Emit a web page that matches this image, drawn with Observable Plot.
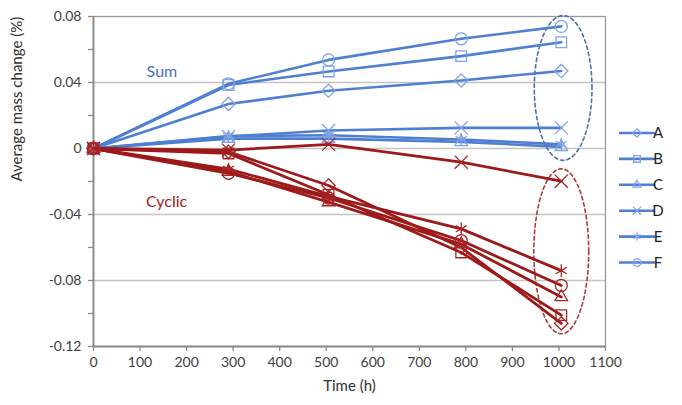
<!DOCTYPE html>
<html>
<head>
<meta charset="utf-8">
<script src="https://cdn.jsdelivr.net/npm/d3@7"></script>
<script src="https://cdn.jsdelivr.net/npm/@observablehq/plot@0.6"></script>
<style>
  html, body { margin: 0; padding: 0; background: white; }
  #chart { width: 682px; height: 405px; }
</style>
</head>
<body>
<div id="chart"></div>
<script>
// ---- data ----
const times = [0, 290, 505, 790, 1005];
const seriesNames = ["A", "B", "C", "D", "E", "F"];
const symbolNames = ["diamond2", "square", "triangle2", "times", "asterisk", "circle"];

// "Sum" loading (blue)
const sumA = [0, 0.027, 0.035, 0.0412, 0.047];
const sumB = [0, 0.0385, 0.0467, 0.056, 0.0644];
const sumC = [0, 0.006, 0.006, 0.004, 0.001];
const sumD = [0, 0.0073, 0.0109, 0.0125, 0.0125];
const sumE = [0, 0.0075, 0.008, 0.0055, 0.0025];
const sumF = [0, 0.0392, 0.0537, 0.0665, 0.074];

// "Cyclic" loading (red)
const cycA = [0, -0.002, -0.0224, -0.060, -0.106];
const cycB = [0, -0.003, -0.028, -0.063, -0.101];
const cycC = [0, -0.014, -0.0325, -0.058, -0.090];
const cycD = [0, -0.001, 0.0025, -0.0083, -0.0198];
const cycE = [0, -0.0125, -0.029, -0.0487, -0.074];
const cycF = [0, -0.015, -0.030, -0.0558, -0.083];

const xTicks = [0, 100, 200, 300, 400, 500, 600, 700, 800, 900, 1000, 1100];
const yTicks = [-0.12, -0.10, -0.08, -0.06, -0.04, -0.02, 0, 0.02, 0.04, 0.06, 0.08];
const yLabels = ["-0.12", "", "-0.08", "", "-0.04", "", "0", "", "0.04", "", "0.08"];
const gridValues = [0.04, 0, -0.04, -0.08];

const groupLabels = [
  {text: "Sum", time: 147, value: 0.0467, group: "Sum"},
  {text: "Cyclic", time: 157, value: -0.0321, group: "Cyclic"}
];
// dashed ellipses around the final readings (centre & radii in data units)
const ellipseSpecs = [
  {group: "Sum", cx: 1009, cy: 0.0367, rx: 62, ry: 0.0439},
  {group: "Cyclic", cx: 1005, cy: -0.0623, rx: 59, ry: 0.050}
];

// ---- styles ----
const blueLine = "#4f7fd1", blueMarker = "#7fa2e4";
const redLine = "#9c1a1a", redMarker = "#a82424";

// ---- build tables ----
const sumSets = [sumA, sumB, sumC, sumD, sumE, sumF];
const cycSets = [cycA, cycB, cycC, cycD, cycE, cycF];
function rowsFor(group, sets) {
  const out = [];
  sets.forEach((vals, i) => vals.forEach((v, j) => out.push({group, series: seriesNames[i], time: times[j], value: v})));
  return out;
}
const sumRows = rowsFor("Sum", sumSets);
const cycRows = rowsFor("Cyclic", cycSets);

const ellipseRows = [];
ellipseSpecs.forEach(e => {
  d3.range(0, 361, 4).forEach(a => {
    const t = a * Math.PI / 180;
    ellipseRows.push({group: e.group, time: e.cx + e.rx * Math.cos(t), value: e.cy + e.ry * Math.sin(t)});
  });
});

const axisColor = "#8a8a8a";
const chart = Plot.plot({
  width: 682,
  height: 405,
  marginLeft: 93,
  marginRight: 77,
  marginTop: 16,
  marginBottom: 59,
  style: {fontFamily: "Lato, 'Open Sans', sans-serif", fontSize: "14px", color: "#404040", background: "white"},
  x: {domain: [0, 1100]},
  y: {domain: [-0.12, 0.08]},
  symbol: {domain: seriesNames, range: symbolNames},
  marks: [
    Plot.gridY(gridValues, {stroke: "#c4c4c4", strokeOpacity: 1, strokeWidth: 1.3}),
    Plot.frame({stroke: "#9a9a9a", strokeWidth: 1.3}),
    Plot.ruleX([0], {stroke: axisColor, strokeWidth: 1.8}),
    Plot.ruleY([-0.12], {stroke: axisColor, strokeWidth: 1.8}),
    Plot.axisY({ticks: yTicks, tickSize: 5, tickPadding: 7, stroke: axisColor, strokeWidth: 1.3,
      tickFormat: d => yLabels[yTicks.findIndex(t => Math.abs(t - d) < 1e-9)], label: null, fill: "#404040"}),
    Plot.axisX({ticks: xTicks, tickSize: 5, tickPadding: 6, stroke: axisColor, strokeWidth: 1.3,
      tickFormat: d => String(d), label: null, fill: "#404040"}),
    Plot.text(["Average mass change (%)"], {frameAnchor: "left", dx: -76, rotate: -90, fontSize: 15, fill: "#303030"}),
    Plot.text(["Time (h)"], {frameAnchor: "bottom", dy: 44, fontSize: 15, fill: "#303030"}),
    // ellipses
    Plot.line(ellipseRows, {x: "time", y: "value", z: "group",
      stroke: d => d.group === "Sum" ? "#4d6fb0" : "#b03a3a", strokeWidth: 1.6, strokeDasharray: "3.5,3"}),
    // Sum (blue)
    Plot.line(sumRows, {x: "time", y: "value", z: "series", stroke: blueLine, strokeWidth: 2.6}),
    Plot.dot(sumRows, {x: "time", y: "value", symbol: "series", stroke: blueMarker, fill: "none", r: 6, strokeWidth: 1.3}),
    // Cyclic (red)
    Plot.line(cycRows, {x: "time", y: "value", z: "series", stroke: redLine, strokeWidth: 2.8}),
    Plot.dot(cycRows, {x: "time", y: "value", symbol: "series", stroke: redMarker, fill: "none", r: 6, strokeWidth: 1.3}),
    // group labels
    Plot.text(groupLabels, {x: "time", y: "value", text: "text", fontSize: 16,
      fill: d => d.group === "Sum" ? "#4a72c0" : "#a01c1c"})
  ]
});
document.getElementById("chart").appendChild(chart);

// ---- legend (right side) ----
const svg = d3.select(chart);
const legend = svg.append("g").attr("font-family", "Lato, 'Open Sans', sans-serif").attr("font-size", 15);
const symbolTypes = {diamond2: d3.symbolDiamond2, square: d3.symbolSquare, triangle2: d3.symbolTriangle2,
  times: d3.symbolTimes, asterisk: d3.symbolAsterisk, circle: d3.symbolCircle};
seriesNames.forEach((s, i) => {
  const y = 133 + i * 25.9;
  const g = legend.append("g").attr("transform", `translate(0,${y})`);
  g.append("line").attr("x1", 619).attr("x2", 655).attr("y1", 0).attr("y2", 0)
    .attr("stroke", blueLine).attr("stroke-width", 2.6);
  g.append("path").attr("transform", "translate(637,0)")
    .attr("d", d3.symbol(symbolTypes[symbolNames[i]], 45)())
    .attr("fill", "none").attr("stroke", blueMarker).attr("stroke-width", 1.3);
  g.append("text").attr("x", 658).attr("y", 0).attr("dy", "0.35em").attr("fill", "#202020").text(s);
});
</script>
</body>
</html>
